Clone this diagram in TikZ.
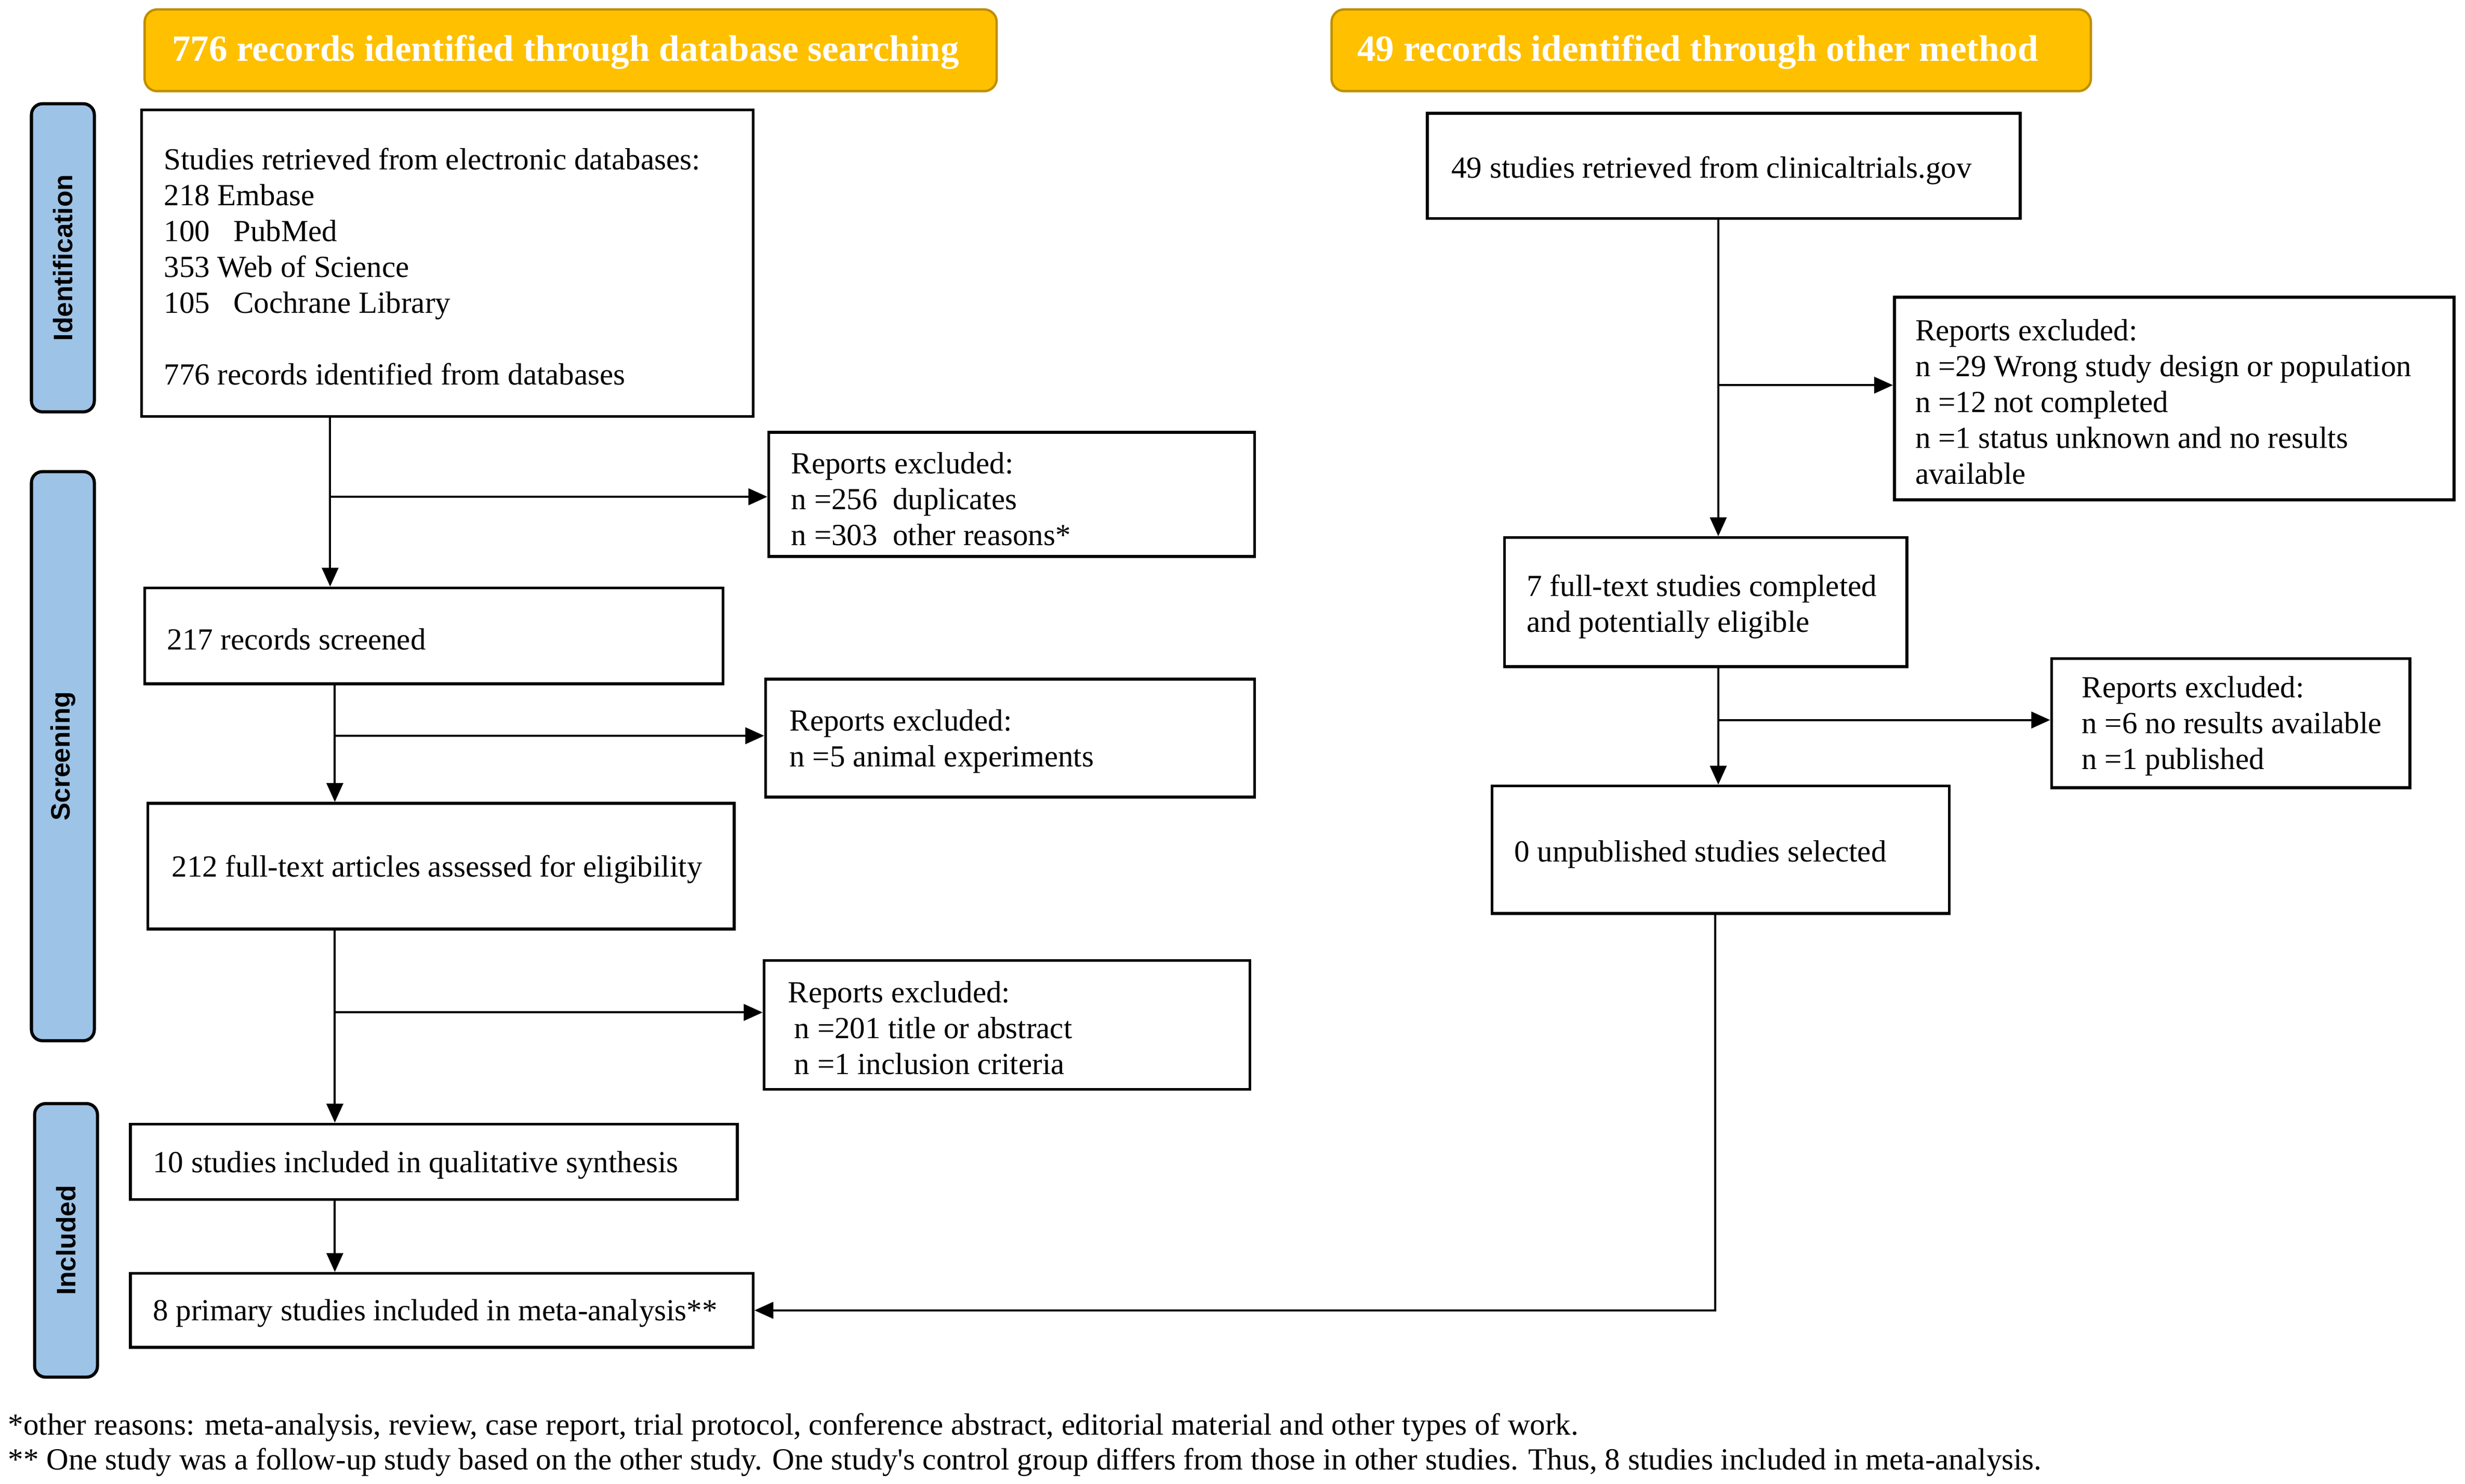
\documentclass[tikz,border=0pt]{standalone}
\usepackage{fontspec}
\setmainfont{Liberation Serif}[Ligatures=TeXOff]
\newfontfamily\sidefont{Liberation Sans}
\usetikzlibrary{arrows.meta}
\definecolor{gold}{HTML}{FFC000}
\definecolor{goldline}{HTML}{BF8F00}
\definecolor{sideblue}{HTML}{9DC3E6}
\definecolor{sideline}{HTML}{000000}
\tikzset{
  frame/.style={draw=black, line width=1.8pt, inner sep=0pt},
  txt/.style={anchor=west, align=left, inner sep=0pt, yshift=-2pt, font=\fontsize{19.5}{22.8}\selectfont},
  hdr/.style={draw=goldline, line width=1.5pt, fill=gold, rounded corners=8pt, inner sep=0pt, minimum height=52pt},
  hdrtxt/.style={anchor=west, inner sep=0pt, yshift=-1pt, text=white, font=\bfseries\fontsize{23.5}{26}\selectfont},
  side/.style={draw=sideline, line width=2pt, fill=sideblue, rounded corners=7pt, inner sep=0pt, minimum width=40pt},
  sidetxt/.style={rotate=90, inner sep=0pt, font=\sidefont\bfseries\fontsize{17}{20}\selectfont},
  arr/.style={line width=1.3pt, -{Triangle[length=12pt,width=10.5pt]}}
}
\begin{document}
\begin{tikzpicture}[x=1pt,y=-1pt]
\useasboundingbox (0,0) rectangle (1568,943.65);
% headers
\node[hdr, minimum width=542pt] (H1) at (363,32) {};
\node[hdrtxt] (H1t) at ([xshift=18pt]H1.west) {776 records identified through database searching};
\node[hdr, minimum width=483pt] (H2) at (1088.5,32) {};
\node[hdrtxt] (H2t) at ([xshift=17pt]H2.west) {49 records identified through other method};
% side labels
\node[side, minimum height=196pt] (S1) at (40,164) {};
\node[sidetxt] (S1t) at (S1.center) {Identification};
\node[side, minimum height=362pt] (S2) at (40,481) {};
\node[sidetxt] (S2t) at (S2.center) {Screening};
\node[side, minimum height=174pt] (S3) at (42,789) {};
\node[sidetxt] (S3t) at (S3.center) {Included};
% left column
\node[frame, minimum width=389pt, minimum height=195pt] (A) at (284.5,167.5) {};
\node[txt] (At) at ([xshift=15pt]A.west) {Studies retrieved from electronic databases:\\218 Embase\\100\hspace{15pt}PubMed\\353 Web of Science\\105\hspace{15pt}Cochrane Library\\[22.8pt]776 records identified from databases};
\node[frame, minimum width=309pt, minimum height=79pt] (X1) at (643.5,314.5) {};
\node[txt] (X1t) at ([xshift=15pt,yshift=-1pt]X1.west) {Reports excluded:\\n =256~ duplicates\\n =303~ other reasons*};
\node[frame, minimum width=368pt, minimum height=61pt] (B) at (276,404.5) {};
\node[txt] (Bt) at ([xshift=15pt]B.west) {217 records screened};
\node[frame, minimum width=311pt, minimum height=75pt] (X2) at (642.5,469.5) {};
\node[txt] (X2t) at ([xshift=16pt]X2.west) {Reports excluded:\\n =5 animal experiments};
\node[frame, minimum width=373pt, minimum height=80pt] (C) at (280.5,551) {};
\node[txt] (Ct) at ([xshift=16pt]C.west) {212 full-text articles assessed for eligibility};
\node[frame, minimum width=309pt, minimum height=82pt] (X3) at (640.5,652) {};
\node[txt] (X3t) at ([xshift=16pt]X3.west) {Reports excluded:\\\hspace{4pt}n =201 title or abstract\\\hspace{4pt}n =1 inclusion criteria};
\node[frame, minimum width=386pt, minimum height=48pt] (D) at (276,739) {};
\node[txt] (Dt) at ([xshift=15pt]D.west) {10 studies included in qualitative synthesis};
\node[frame, minimum width=396pt, minimum height=47pt] (E) at (281,833.5) {};
\node[txt] (Et) at ([xshift=15pt]E.west) {8 primary studies included in meta-analysis**};
% right column
\node[frame, minimum width=377pt, minimum height=67pt] (F) at (1096.5,105.5) {};
\node[txt] (Ft) at ([xshift=16pt,yshift=-1pt]F.west) {49 studies retrieved from clinicaltrials.gov};
\node[frame, minimum width=356pt, minimum height=129pt] (X4) at (1383,253.5) {};
\node[txt] (X4t) at ([xshift=14pt]X4.west) {Reports excluded:\\n =29 Wrong study design or population\\n =12 not completed\\n =1 status unknown and no results\\available};
\node[frame, minimum width=256pt, minimum height=82pt] (G) at (1085,383) {};
\node[txt] (Gt) at ([xshift=15pt,yshift=-1pt]G.west) {7 full-text studies completed\\and potentially eligible};
\node[frame, minimum width=228pt, minimum height=82pt] (X5) at (1419,460) {};
\node[txt] (X5t) at ([xshift=20pt]X5.west) {Reports excluded:\\n =6 no results available\\n =1 published};
\node[frame, minimum width=291pt, minimum height=81pt] (Hh) at (1094.5,540.5) {};
\node[txt] (Hht) at ([xshift=15pt,yshift=-1pt]Hh.west) {0 unpublished studies selected};
% footnotes
\node[txt] (fn1) at (5,906) {*other reasons: meta-analysis, review, case report, trial protocol, conference abstract, editorial material and other types of work.};
\node[txt] (fn2) at (5,928) {** One study was a follow-up study based on the other study. One study's control group differs from those in other studies. Thus, 8 studies included in meta-analysis.};
% trunk coordinates
\coordinate (c1) at (210,0);
\coordinate (c2) at (213,0);
\coordinate (c3) at (1093,0);
\coordinate (c4) at (1091,0);
\coordinate (e1) at ([yshift=-1.5pt]X1.west);
\coordinate (e2) at ([yshift=1.5pt]X2.west);
\coordinate (e3) at ([yshift=8pt]X3.west);
\coordinate (e4) at ([yshift=8.5pt]X4.west);
\coordinate (e5) at ([yshift=2pt]X5.west);
% connectors
\draw[arr] (A.south -| c1) -- (B.north -| c1);
\draw[arr] (e1 -| c1) -- (e1);
\draw[arr] (B.south -| c2) -- (C.north -| c2);
\draw[arr] (e2 -| c2) -- (e2);
\draw[arr] (C.south -| c2) -- (D.north -| c2);
\draw[arr] (e3 -| c2) -- (e3);
\draw[arr] (D.south -| c2) -- (E.north -| c2);
\draw[arr] (F.south -| c3) -- (G.north -| c3);
\draw[arr] (e4 -| c3) -- (e4);
\draw[arr] (G.south -| c3) -- (Hh.north -| c3);
\draw[arr] (e5 -| c3) -- (e5);
\draw[arr] (Hh.south -| c4) |- (E.east);
\end{tikzpicture}
\end{document}
